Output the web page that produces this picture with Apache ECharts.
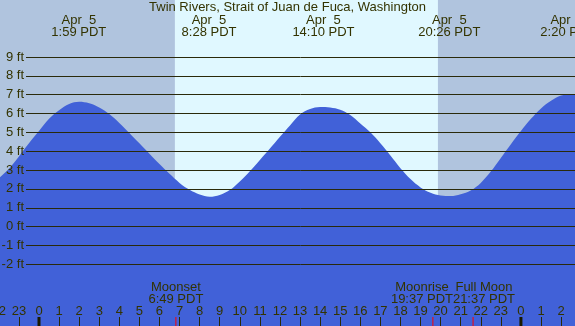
<!DOCTYPE html>
<html>
<head>
<meta charset="utf-8">
<style>
html,body{margin:0;padding:0;background:#b0c4de;}
#chart{width:575px;height:326px;}
</style>
<script src="https://cdn.jsdelivr.net/npm/echarts@6/dist/echarts.min.js"></script>
</head>
<body>
<div id="chart"></div>
<script>
// ---- data (hours relative to midnight Apr 5, PDT; heights in ft, read every half hour) ----
const HOURS = [-2, -1.5, -1, -0.5, 0, 0.5, 1, 1.5, 2, 2.5, 3, 3.5, 4, 4.5, 5, 5.5, 6, 6.5, 7, 7.5, 8, 8.5, 9, 9.5,
  10, 10.5, 11, 11.5, 12, 12.5, 13, 13.5, 14, 14.5, 15, 15.5, 16, 16.5, 17, 17.5, 18, 18.5, 19, 19.5,
  20, 20.5, 21, 21.5, 22, 22.5, 23, 23.5, 24, 24.5, 25, 25.5, 26, 26.5, 27];
const HEIGHTS = [2.55, 3.05, 3.7, 4.4, 5.05, 5.7, 6.15, 6.48, 6.6, 6.52, 6.3, 5.95, 5.48, 4.95, 4.4, 3.85, 3.3, 2.78, 2.3, 1.93, 1.68, 1.56, 1.66, 1.92,
  2.38, 2.92, 3.52, 4.12, 4.75, 5.35, 5.93, 6.22, 6.33, 6.3, 6.18, 5.9, 5.45, 4.98, 4.4, 3.75, 3.08, 2.5, 2.06, 1.78,
  1.63, 1.6, 1.7, 1.9, 2.3, 2.9, 3.62, 4.35, 5.05, 5.7, 6.25, 6.65, 6.93, 6.99, 6.86];

const EXTREME_HOURS = [1 + 59/60, 8 + 28/60, 14 + 10/60, 20 + 26/60, 26 + 20/60];
const EXTREME_DATES = ['Apr  5', 'Apr  5', 'Apr  5', 'Apr  5', 'Apr  6'];
const EXTREME_TIMES = ['1:59 PDT', '8:28 PDT', '14:10 PDT', '20:26 PDT', '2:20 PDT'];

const MOON_HOURS = [6 + 49/60, 19 + 37/60, 21 + 37/60];
const MOON_NAMES = ['Moonset', 'Moonrise', 'Full Moon'];
const MOON_TIMES = ['6:49 PDT', '19:37 PDT', '21:37 PDT'];

const MIDNIGHTS = [0, 24];
const SUNRISE = 6 + 46/60;
const SUNSET  = 19 + 52/60;

const Y_LABEL_MIN = -2, Y_LABEL_MAX = 9;
const TITLE = 'Twin Rivers, Strait of Juan de Fuca, Washington';

// ---- layout / style ----
const W = 575, H = 326;
const X_MIN = -2, X_MAX = 27;
const PX_PER_HOUR = 20.08, MIDNIGHT_PX = 39;
const Y_MIN = -5.29, Y_MAX = 12.0;
const FONT_FAMILY = '"Liberation Sans", Arial, sans-serif';
const FONT = '13px ' + FONT_FAMILY;
const TXT = '#333300';
const LINE = '#2a2a0a';
const NIGHT = '#b0c4de', DAY = '#e0f8ff', TIDE = '#4161d8';

const gridLeft = MIDNIGHT_PX + X_MIN * PX_PER_HOUR;
const gridRight = W - (MIDNIGHT_PX + X_MAX * PX_PER_HOUR);

const chart = echarts.init(document.getElementById('chart'), null, {renderer: 'canvas'});

const tideData = HOURS.map((h, i) => [h, HEIGHTS[i]]);

function resolveCenters(xs, minGap) {
  const c = xs.slice();
  for (let i = 0; i < c.length - 1; i++) {
    const d = c[i + 1] - c[i];
    if (d < minGap) {
      const s = (minGap - d) / 2;
      c[i] -= s; c[i + 1] += s;
    }
  }
  return c;
}

const option = {
  backgroundColor: NIGHT,
  animation: false,
  title: {
    text: TITLE, left: 'center', top: 1, padding: 0,
    textStyle: {fontSize: 13, fontWeight: 'normal', color: TXT, fontFamily: FONT_FAMILY}
  },
  grid: [
    {left: gridLeft, right: gridRight, top: 0, bottom: 0, containLabel: false, outerBoundsMode: 'none'},
    {left: 26, right: 0, top: 57, bottom: H - 264.3, containLabel: false, outerBoundsMode: 'none'}
  ],
  xAxis: [
    {
      type: 'value', gridIndex: 0, min: X_MIN, max: X_MAX, interval: 1, z: 5,
      axisLine: {show: false, onZero: false},
      splitLine: {show: false},
      axisTick: {show: true, inside: true, length: 9, lineStyle: {color: LINE, width: 1}},
      axisLabel: {
        show: true, inside: true, margin: 8, color: TXT,
        fontSize: 13, fontFamily: FONT_FAMILY,
        showMinLabel: true, showMaxLabel: true, hideOverlap: false,
        formatter: v => String(((Math.round(v) % 24) + 24) % 24)
      }
    },
    {type: 'value', gridIndex: 1, min: 0, max: 1, show: false}
  ],
  yAxis: [
    {type: 'value', gridIndex: 0, min: Y_MIN, max: Y_MAX, show: false},
    {
      type: 'value', gridIndex: 1, min: Y_LABEL_MIN, max: Y_LABEL_MAX, interval: 1, z: 5,
      axisLine: {show: false, onZero: false}, axisTick: {show: false},
      splitLine: {show: true, lineStyle: {color: LINE, width: 1}},
      axisLabel: {
        show: true, margin: 2, color: TXT, fontSize: 13, fontFamily: FONT_FAMILY,
        showMinLabel: true, showMaxLabel: true,
        formatter: v => v + ' ft'
      }
    }
  ],
  series: [
    {
      type: 'custom', xAxisIndex: 0, yAxisIndex: 0, z: 1, silent: true,
      data: [[SUNRISE, SUNSET]],
      renderItem: (params, api) => {
        const p0 = api.coord([api.value(0), Y_MAX]);
        const p1 = api.coord([api.value(1), Y_MIN]);
        return {type: 'rect', shape: {x: p0[0], y: p0[1], width: p1[0] - p0[0], height: p1[1] - p0[1]}, style: {fill: DAY}};
      }
    },
    {
      type: 'line', xAxisIndex: 0, yAxisIndex: 0, z: 2, silent: true,
      data: tideData, smooth: 0.35, showSymbol: false, symbol: 'none',
      lineStyle: {width: 0, color: TIDE},
      areaStyle: {color: TIDE, opacity: 1, origin: 'start'}
    },
    {type: 'line', xAxisIndex: 1, yAxisIndex: 1, data: []},
    {
      type: 'custom', xAxisIndex: 0, yAxisIndex: 0, z: 6, silent: true,
      data: EXTREME_HOURS.map(h => [h, 0]),
      renderItem: (params, api) => {
        const x = api.coord([api.value(0), 0])[0];
        const i = params.dataIndex;
        return {
          type: 'text', x: x, y: 26,
          style: {text: EXTREME_DATES[i] + '\n' + EXTREME_TIMES[i], fill: TXT, font: FONT, align: 'center', verticalAlign: 'middle', lineHeight: 12}
        };
      }
    },
    {
      type: 'custom', xAxisIndex: 0, yAxisIndex: 0, z: 6, silent: true,
      data: MOON_HOURS.map(h => [h, Y_MIN]),
      renderItem: (params, api) => {
        const i = params.dataIndex;
        const base = api.coord([api.value(0), Y_MIN]);
        const xs = MOON_HOURS.map(h => api.coord([h, Y_MIN])[0]);
        const centers = resolveCenters(xs, 62);
        return {
          type: 'group',
          children: [
            {type: 'line', shape: {x1: base[0], y1: base[1], x2: base[0], y2: base[1] - 9}, style: {stroke: '#ff0000', lineWidth: 1}},
            {type: 'text', x: centers[i], y: base[1] - 33, style: {text: MOON_NAMES[i] + '\n' + MOON_TIMES[i], fill: TXT, font: FONT, align: 'center', verticalAlign: 'middle', lineHeight: 12}}
          ]
        };
      }
    },
    {
      type: 'custom', xAxisIndex: 0, yAxisIndex: 0, z: 6, silent: true,
      data: MIDNIGHTS.map(h => [h, Y_MIN]),
      renderItem: (params, api) => {
        const p = api.coord([api.value(0), Y_MIN]);
        return {type: 'line', shape: {x1: p[0], y1: p[1], x2: p[0], y2: p[1] - 9}, style: {stroke: '#1a1a00', lineWidth: 3}};
      }
    }
  ]
};
chart.setOption(option);
</script>
</body>
</html>
